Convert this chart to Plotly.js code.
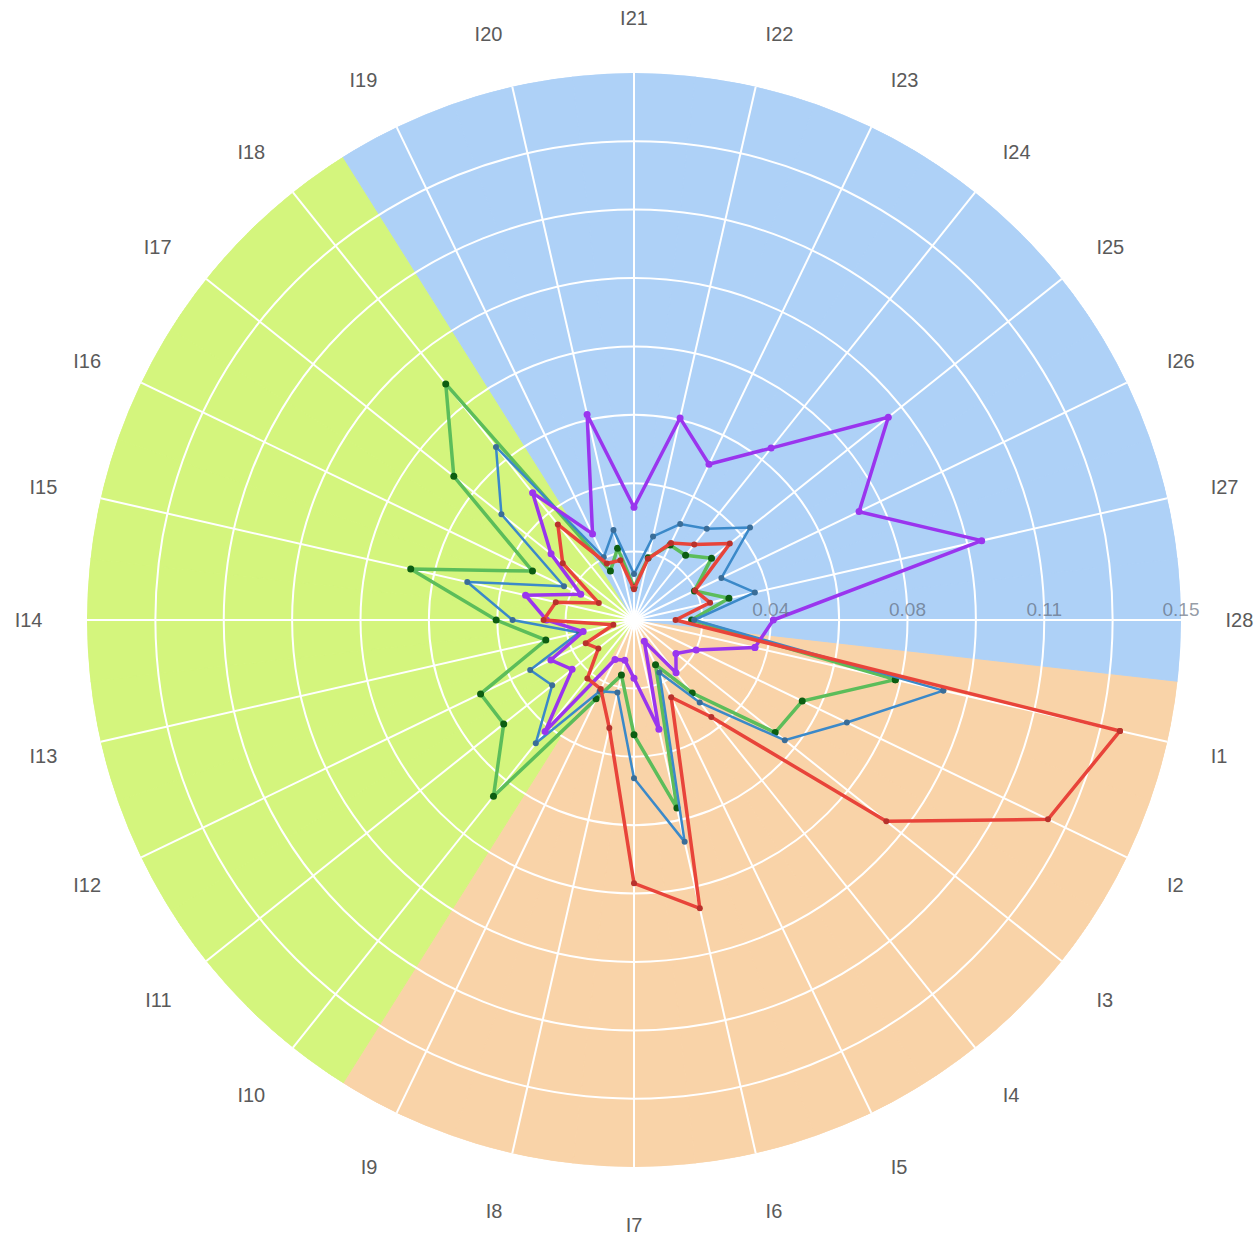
<!DOCTYPE html>
<html>
<head>
<meta charset="utf-8">
<script src="https://cdn.plot.ly/plotly-3.0.1.min.js"></script>
<style>
html,body{margin:0;padding:0;background:#fff;}
#chart{width:1258px;height:1235px;}
</style>
</head>
<body>
<div id="chart"></div>
<script>
// Categories (clockwise from I1)
const categories = ['I1','I2','I3','I4','I5','I6','I7','I8','I9','I10','I11','I12','I13','I14',
  'I15','I16','I17','I18','I19','I20','I21','I22','I23','I24','I25','I26','I27','I28'];

// Series values, I1..I28
const purpleValues = [0.034, 0.0189, 0.0147, 0.0185, 0.0065, 0.0307, 0.016, 0.0113, 0.012, 0.0391,
  0.0217, 0.0253, 0.0143, 0.024, 0.0305, 0.0162, 0.0291, 0.0446, 0.0262, 0.0578,
  0.0309, 0.0568, 0.0474, 0.0603, 0.0892, 0.0685, 0.0978, 0.0382];
const blueValues = [0.087, 0.0648, 0.0529, 0.0289, 0.016, 0.0624, 0.0434, 0.0204, 0.0217, 0.0432,
  0.0287, 0.0316, 0.0154, 0.0333, 0.0469, 0.0213, 0.0465, 0.0607, 0.0191, 0.0253,
  0.0126, 0.0235, 0.0292, 0.032, 0.0407, 0.0266, 0.034, 0.0165];
const greenValues = [0.0735, 0.0512, 0.0495, 0.0256, 0.0136, 0.0529, 0.0315, 0.0155, 0.024, 0.0618,
  0.0457, 0.0467, 0.0248, 0.0378, 0.0628, 0.0309, 0.0632, 0.0828, 0.0149, 0.0202,
  0.009, 0.0175, 0.0228, 0.0227, 0.0272, 0.0184, 0.0267, 0.0158];
const redValues = [0.1367, 0.126, 0.0885, 0.034, 0.0235, 0.0811, 0.0722, 0.0304, 0.021, 0.0205,
  0.0125, 0.0147, 0.0058, 0.0248, 0.022, 0.0107, 0.025, 0.0335, 0.0172, 0.0168,
  0.0084, 0.0172, 0.0234, 0.0265, 0.0336, 0.0186, 0.0214, 0.0114];

// Background sectors
const orangeSector = categories.slice(0, 9);
const greenSector = categories.slice(9, 18);
const blueSector = categories.slice(18, 28);
const radialMax = 0.15;

// Radial ticks
const radialTickVals = [0.01875, 0.0375, 0.05625, 0.075, 0.09375, 0.1125, 0.13125, 0.15];
const radialTickText = ['', '0.04', '', '0.08', '', '0.11', '', '0.15'];

function sectorTrace(cats, color) {
  return {
    type: 'barpolar', subplot: 'polar',
    theta: cats, r: cats.map(() => radialMax),
    marker: {color: color, line: {color: color, width: 1}},
    hoverinfo: 'skip', showlegend: false
  };
}
function closed(arr) { return arr.concat([arr[0]]); }
function seriesTrace(vals, lineColor, markerColor, lw, ms) {
  return {
    type: 'scatterpolar', subplot: 'polar2', mode: 'lines+markers',
    r: closed(vals), theta: closed(categories),
    line: {color: lineColor, width: lw},
    marker: {color: markerColor, size: ms},
    showlegend: false
  };
}

const data = [
  sectorTrace(orangeSector, '#f9d3a8'),
  sectorTrace(greenSector, '#d4f57d'),
  sectorTrace(blueSector, '#aed1f7'),
  seriesTrace(greenValues, '#5cbd5a', '#0d5e12', 3.5, 7),
  seriesTrace(blueValues, '#3b89c9', '#3a6d98', 2.5, 6),
  seriesTrace(purpleValues, '#9a35ee', '#9a35ee', 3.5, 7),
  seriesTrace(redValues, '#e8443a', '#b8322c', 3.5, 6)
];

const angBase = {
  type: 'category', categoryarray: categories,
  direction: 'clockwise', rotation: -360 / 28
};

const layout = {
  width: 1258, height: 1235,
  margin: {l: 87, r: 77, t: 73, b: 68},
  paper_bgcolor: '#fff',
  font: {family: 'Liberation Sans, Arial, sans-serif'},
  showlegend: false,
  polar: {
    domain: {x: [0, 1], y: [0, 1]},
    bgcolor: 'rgba(0,0,0,0)',
    bargap: 0,
    angularaxis: Object.assign({}, angBase, {showgrid: false, showticklabels: false, ticks: '', showline: false}),
    radialaxis: {range: [0, radialMax], visible: false}
  },
  polar2: {
    domain: {x: [0, 1], y: [0, 1]},
    bgcolor: 'rgba(0,0,0,0)',
    angularaxis: Object.assign({}, angBase, {
      showgrid: true, gridcolor: '#ffffff', gridwidth: 2,
      showline: false, ticks: 'outside', ticklen: 40, tickcolor: 'rgba(0,0,0,0)',
      tickfont: {size: 20, color: '#5a5a5a'}
    }),
    radialaxis: {
      range: [0, radialMax], angle: 0, side: 'counterclockwise',
      tickmode: 'array', tickvals: radialTickVals, ticktext: radialTickText,
      showgrid: true, gridcolor: '#ffffff', gridwidth: 2,
      showline: false, ticks: '',
      tickfont: {size: 19, color: 'rgba(90,100,115,0.65)'}
    }
  }
};

Plotly.newPlot('chart', data, layout, {displayModeBar: false, staticPlot: true});
</script>
</body>
</html>
